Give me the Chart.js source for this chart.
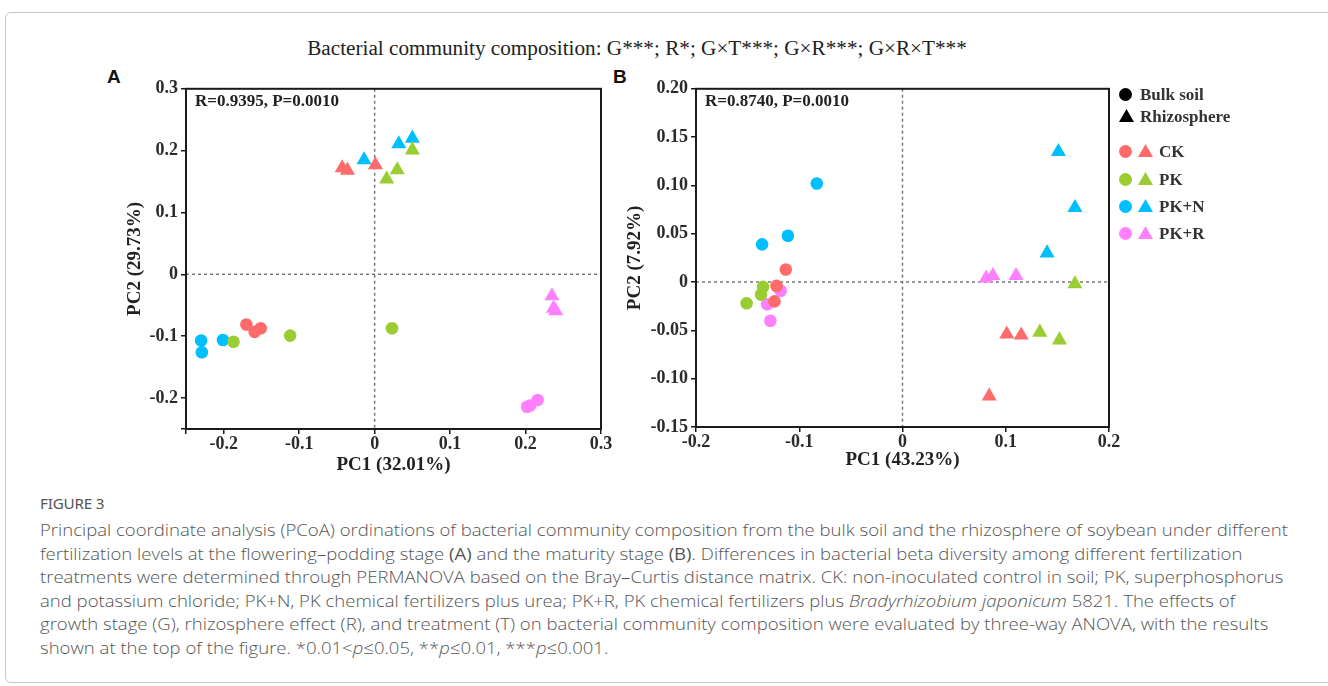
<!DOCTYPE html>
<html>
<head>
<meta charset="utf-8">
<script src="https://cdn.jsdelivr.net/npm/chart.js@4.4.0/dist/chart.umd.min.js"></script>
<style>
  body { margin: 0; width: 1328px; height: 686px; background: #fff; overflow: hidden; position: relative; }
  .frame { position: absolute; left: 5px; top: 12px; width: 1340px; height: 669px; border: 1px solid #c8c8c8; border-radius: 6px; }
  .title { position: absolute; left: 0; width: 1274px; top: 37px; text-align: center; font: 20px "Liberation Serif", serif; color: #222; transform: scaleX(1.06); transform-origin: 637px 0; }
  .letter { position: absolute; top: 66px; font: bold 19px "Liberation Sans", sans-serif; color: #111; }
  canvas { position: absolute; }
  .stat { position: absolute; top: 91px; font: bold 17px "Liberation Serif", serif; color: #222; }
  .legend { position: absolute; left: 1118px; top: 84px; font: bold 17px "Liberation Serif", serif; color: #333; }
  .row { position: absolute; left: 0; height: 22px; white-space: nowrap; }
  .dot { position: absolute; width: 13px; height: 13px; border-radius: 50%; top: 4px; }
  .tri { position: absolute; width: 15px; height: 13px; top: 3px; clip-path: polygon(50% 0, 100% 100%, 0 100%); }
  .row span { position: absolute; top: 0; line-height: 22px; }
  .caption { position: absolute; left: 40px; top: 494px; color: #555; transform: scaleX(1.09); transform-origin: 0 0; }
  .fig { font: 14px "Noto Sans", sans-serif; letter-spacing: -0.2px; color: #555; height: 24px; }
  .lines { font: 300 17px "Open Sans", sans-serif; line-height: 23.6px; white-space: nowrap; }
</style>
</head>
<body>
<div class="frame"></div>
<div class="title">Bacterial community composition: G***; R*; G×T***; G×R***; G×R×T***</div>
<div class="letter" style="left:107px">A</div>
<div class="letter" style="left:613px">B</div>
<canvas id="chartA" width="520" height="405" style="left:100px;top:75px"></canvas>
<canvas id="chartB" width="530" height="405" style="left:600px;top:75px"></canvas>
<div class="stat" style="left:195px">R=0.9395, P=0.0010</div>
<div class="stat" style="left:705px">R=0.8740, P=0.0010</div>
<div class="legend" id="legend"></div>
<div class="caption">
  <div class="fig">FIGURE 3</div>
  <div class="lines">
    Principal coordinate analysis (PCoA) ordinations of bacterial community composition from the bulk soil and the rhizosphere of soybean under different<br>
    fertilization levels at the flowering–podding stage <b>(A)</b> and the maturity stage <b>(B)</b>. Differences in bacterial beta diversity among different fertilization<br>
    treatments were determined through PERMANOVA based on the Bray–Curtis distance matrix. CK: non-inoculated control in soil; PK, superphosphorus<br>
    and potassium chloride; PK+N, PK chemical fertilizers plus urea; PK+R, PK chemical fertilizers plus <i>Bradyrhizobium japonicum</i> 5821. The effects of<br>
    growth stage (G), rhizosphere effect (R), and treatment (T) on bacterial community composition were evaluated by three-way ANOVA, with the results<br>
    shown at the top of the figure. *0.01&lt;<i>p</i>≤0.05, **<i>p</i>≤0.01, ***<i>p</i>≤0.001.
  </div>
</div>
<script>
// groups (treatments) and colours
const groups = ['CK', 'PK', 'PK+N', 'PK+R'];
const groupColors = ['#ff6b6b', '#9acd32', '#00bfff', '#ff80ff'];

// panel A: flowering-podding stage, [PC1, PC2]
const aCkBulk = [[-0.170, -0.081], [-0.159, -0.093], [-0.151, -0.087]];
const aPkBulk = [[-0.187, -0.109], [-0.112, -0.099], [0.023, -0.087]];
const aPkNBulk = [[-0.230, -0.107], [-0.229, -0.126], [-0.201, -0.106]];
const aPkRBulk = [[0.202, -0.214], [0.206, -0.212], [0.216, -0.203]];
const aCkRhizo = [[-0.043, 0.172], [-0.036, 0.168], [0.001, 0.177]];
const aPkRhizo = [[0.016, 0.154], [0.030, 0.169], [0.050, 0.201]];
const aPkNRhizo = [[-0.014, 0.185], [0.032, 0.211], [0.050, 0.220]];
const aPkRRhizo = [[0.235, -0.035], [0.237, -0.055], [0.240, -0.059]];

// panel B: maturity stage
const bCkBulk = [[-0.113, 0.013], [-0.122, -0.004], [-0.124, -0.020]];
const bPkBulk = [[-0.135, -0.005], [-0.137, -0.013], [-0.151, -0.022]];
const bPkNBulk = [[-0.083, 0.102], [-0.111, 0.048], [-0.136, 0.039]];
const bPkRBulk = [[-0.118, -0.009], [-0.131, -0.023], [-0.128, -0.040]];
const bCkRhizo = [[0.101, -0.054], [0.115, -0.055], [0.084, -0.118]];
const bPkRhizo = [[0.167, -0.002], [0.133, -0.052], [0.152, -0.060]];
const bPkNRhizo = [[0.151, 0.135], [0.167, 0.077], [0.140, 0.030]];
const bPkRRhizo = [[0.081, 0.004], [0.0875, 0.0066], [0.110, 0.0066]];

// ticks
const aXTicks = [-0.25, -0.2, -0.1, 0, 0.1, 0.2, 0.3];
const aXLabels = ['', '-0.2', '-0.1', '0', '0.1', '0.2', '0.3'];
const aYTicks = [-0.25, -0.2, -0.1, 0, 0.1, 0.2, 0.3];
const aYLabels = ['', '-0.2', '-0.1', '0', '0.1', '0.2', '0.3'];
const bXTicks = [-0.2, -0.1, 0, 0.1, 0.2];
const bXLabels = ['-0.2', '-0.1', '0', '0.1', '0.2'];
const bYTicks = [-0.15, -0.1, -0.05, 0, 0.05, 0.1, 0.15, 0.2];
const bYLabels = ['-0.15', '-0.10', '-0.05', '0', '0.05', '0.10', '0.15', '0.20'];

const tickFont = { family: '"Liberation Serif", serif', size: 18, weight: 'bold' };
const titleFont = { family: '"Liberation Serif", serif', size: 19, weight: 'bold' };

const framePlugin = {
  id: 'frame',
  beforeDatasetsDraw(chart) {
    const { ctx, chartArea: a, scales: { x, y } } = chart;
    const x0 = x.getPixelForValue(0);
    const y0 = y.getPixelForValue(0);
    ctx.save();
    ctx.strokeStyle = '#7a7a7a';
    ctx.lineWidth = 1.5;
    ctx.setLineDash([3, 3]);
    ctx.beginPath();
    ctx.moveTo(x0, a.top);
    ctx.lineTo(x0, a.bottom);
    ctx.moveTo(a.left, y0);
    ctx.lineTo(a.right, y0);
    ctx.stroke();
    ctx.setLineDash([]);
    ctx.strokeStyle = '#1a1a1a';
    ctx.lineWidth = 2;
    ctx.strokeRect(a.left, a.top, a.right - a.left, a.bottom - a.top);
    ctx.restore();
  }
};

function toPoints(list) {
  return list.map(([x, y]) => ({ x, y }));
}

function buildDatasets(bulk, rhizo) {
  const sets = [];
  bulk.forEach((list, i) => {
    sets.push({ data: toPoints(list), pointStyle: 'circle', pointRadius: 6.3, backgroundColor: groupColors[i], borderWidth: 0 });
  });
  rhizo.forEach((list, i) => {
    sets.push({ data: toPoints(list), pointStyle: 'triangle', pointRadius: 8.7, backgroundColor: groupColors[i], borderWidth: 0 });
  });
  return sets;
}

function axis(ticks, labels, range, title, titlePad, fitSize, horizontal) {
  return {
    type: 'linear',
    min: range[0],
    max: range[1],
    afterBuildTicks: (s) => { s.ticks = ticks.map((v) => ({ value: v })); },
    afterFit: (s) => { if (horizontal) s.height = fitSize; else s.width = fitSize; },
    ticks: { callback: (v, i) => labels[i], font: tickFont, color: '#2a2a2a', padding: horizontal ? 0 : 3, autoSkip: false, maxRotation: 0 },
    grid: { drawOnChartArea: false, drawTicks: true, tickLength: 5, color: '#1a1a1a', lineWidth: 1.5 },
    border: { display: true, color: '#1a1a1a', width: 2 },
    title: { display: true, text: title, font: titleFont, color: '#222', padding: titlePad }
  };
}

function makeChart(id, datasets, xAxis, yAxis, rightPad) {
  return new Chart(document.getElementById(id), {
    type: 'scatter',
    data: { datasets },
    options: {
      responsive: false,
      animation: false,
      devicePixelRatio: 1,
      layout: { padding: { left: 0, right: rightPad, top: 12, bottom: 0 } },
      scales: { x: xAxis, y: yAxis },
      plugins: { legend: { display: false }, tooltip: { enabled: false } }
    },
    plugins: [framePlugin]
  });
}

makeChart('chartA',
  buildDatasets([aCkBulk, aPkBulk, aPkNBulk, aPkRBulk], [aCkRhizo, aPkRhizo, aPkNRhizo, aPkRRhizo]),
  axis(aXTicks, aXLabels, [-0.25, 0.3], 'PC1 (32.01%)', { top: 0, bottom: 4 }, 51, true),
  axis(aYTicks, aYLabels, [-0.25, 0.3], 'PC2 (29.73%)', { top: 24, bottom: 0 }, 86, false),
  19);

makeChart('chartB',
  buildDatasets([bCkBulk, bPkBulk, bPkNBulk, bPkRBulk], [bCkRhizo, bPkRhizo, bPkNRhizo, bPkRRhizo]),
  axis(bXTicks, bXLabels, [-0.2, 0.2], 'PC1 (43.23%)', { top: 0, bottom: 9 }, 53, true),
  axis(bYTicks, bYLabels, [-0.15, 0.2], 'PC2 (7.92%)', { top: 24, bottom: 0 }, 96, false),
  21);

// legend
const legend = document.getElementById('legend');
const shapeRows = [['Bulk soil', 'dot', 0], ['Rhizosphere', 'tri', 22]];
shapeRows.forEach(([label, shape, top]) => {
  const row = document.createElement('div');
  row.className = 'row';
  row.style.top = top + 'px';
  row.innerHTML = `<div class="${shape}" style="left:1px;background:#000"></div><span style="left:22px">${label}</span>`;
  legend.appendChild(row);
});
const groupTops = [57, 85, 112, 139];
groups.forEach((g, i) => {
  const row = document.createElement('div');
  row.className = 'row';
  row.style.top = groupTops[i] + 'px';
  row.innerHTML = `<div class="dot" style="left:1px;background:${groupColors[i]}"></div>` +
    `<div class="tri" style="left:20px;background:${groupColors[i]}"></div>` +
    `<span style="left:41px">${g}</span>`;
  legend.appendChild(row);
});
</script>
</body>
</html>
